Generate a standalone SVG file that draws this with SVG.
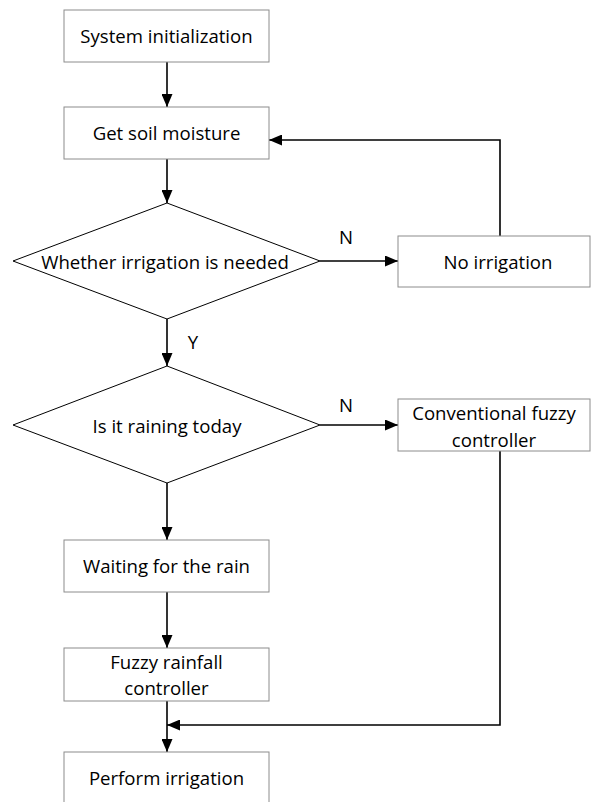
<svg xmlns="http://www.w3.org/2000/svg" width="593" height="802" viewBox="0 0 593 802">
<defs>
<marker id="ah" markerWidth="13" markerHeight="11" refX="13" refY="5.5" orient="auto" markerUnits="userSpaceOnUse">
<path d="M0,0 L13,5.5 L0,11 Z" fill="#000"/>
</marker>
<style>
.box{fill:#fff;stroke:#8c8c8c;stroke-width:1}
.dia{fill:#fff;stroke:#000;stroke-width:1}
.t{font-family:"Open Sans","Liberation Sans",Arial,sans-serif;font-size:18.6px;fill:#000;text-anchor:middle;dominant-baseline:central}
.c{fill:none;stroke:#000;stroke-width:1.6}
</style>
</defs>
<rect width="593" height="802" fill="#fff"/>
<g id="connectors">
<line class="c" x1="167" y1="62" x2="167" y2="107" marker-end="url(#ah)"/>
<line class="c" x1="167" y1="159" x2="167" y2="203" marker-end="url(#ah)"/>
<line class="c" x1="320" y1="261" x2="398" y2="261" marker-end="url(#ah)"/>
<polyline class="c" points="500,236 500,140 269,140" marker-end="url(#ah)"/>
<line class="c" x1="167" y1="319" x2="167" y2="366" marker-end="url(#ah)"/>
<line class="c" x1="320" y1="425" x2="398" y2="425" marker-end="url(#ah)"/>
<line class="c" x1="167" y1="483" x2="167" y2="540" marker-end="url(#ah)"/>
<line class="c" x1="167" y1="592" x2="167" y2="648" marker-end="url(#ah)"/>
<line class="c" x1="167" y1="701" x2="167" y2="752" marker-end="url(#ah)"/>
<polyline class="c" points="500,451 500,725 167,725" marker-end="url(#ah)"/>
<text class="t" x="346" y="236">N</text>
<text class="t" x="193" y="341">Y</text>
<text class="t" x="346" y="404">N</text>
</g>
<g id="n1"><rect class="box" x="64" y="10" width="205" height="52"/><text class="t" x="166.5" y="35">System initialization</text></g>
<g id="n2"><rect class="box" x="64" y="107" width="205" height="52"/><text class="t" x="166.5" y="132">Get soil moisture</text></g>
<g id="d1"><polygon class="dia" points="167,203 320,261 167,319 13,261"/><text class="t" x="165" y="261">Whether irrigation is needed</text></g>
<g id="n3"><rect class="box" x="398" y="236" width="192" height="51"/><text class="t" x="498" y="261">No irrigation</text></g>
<g id="d2"><polygon class="dia" points="167,366 320,425 167,483 13,425"/><text class="t" x="167" y="425">Is it raining today</text></g>
<g id="n4"><rect class="box" x="398" y="399" width="192" height="52"/><text class="t" x="494" y="412">Conventional fuzzy</text><text class="t" x="494" y="439">controller</text></g>
<g id="n5"><rect class="box" x="64" y="540" width="205" height="52"/><text class="t" x="166.5" y="565">Waiting for the rain</text></g>
<g id="n6"><rect class="box" x="64" y="648" width="205" height="53"/><text class="t" x="166.5" y="661">Fuzzy rainfall</text><text class="t" x="166.5" y="687">controller</text></g>
<g id="n7"><rect class="box" x="64" y="752" width="205" height="60"/><text class="t" x="166.5" y="777">Perform irrigation</text></g>
</svg>
